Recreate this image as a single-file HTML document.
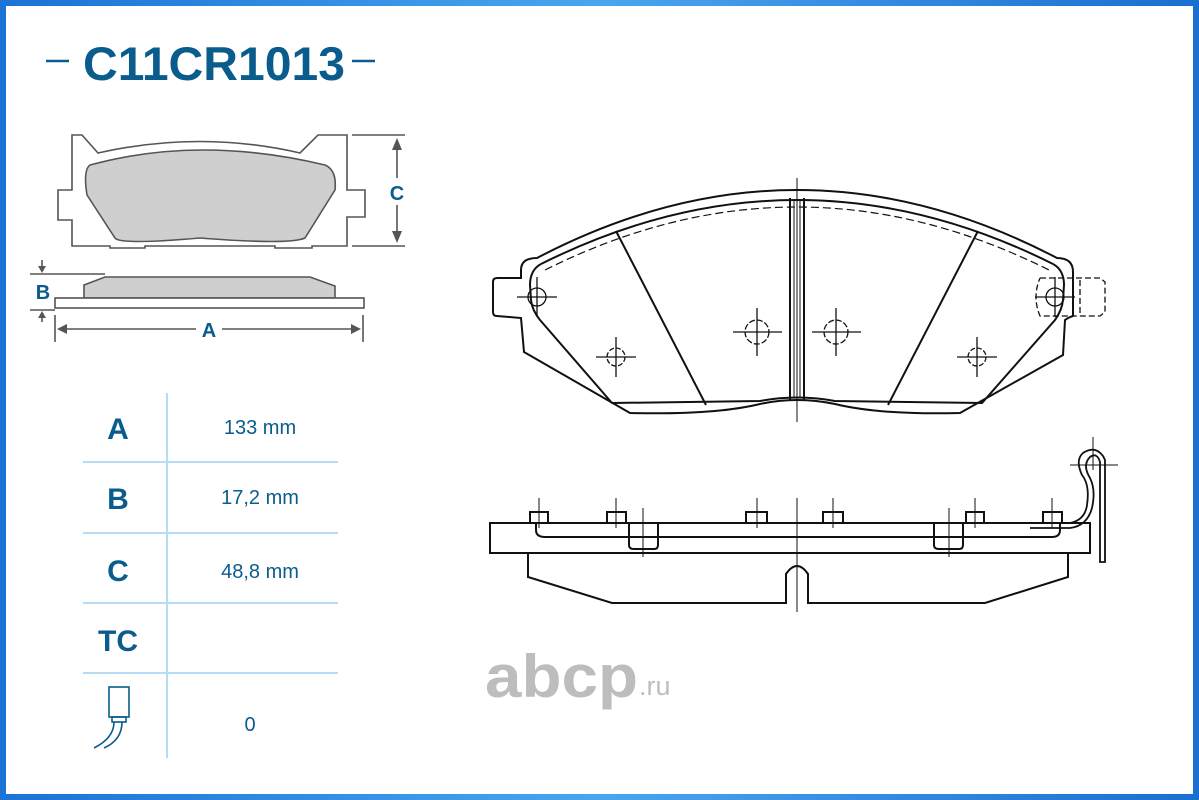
<!DOCTYPE html>
<html><head><meta charset="utf-8"><style>
html,body{margin:0;padding:0;background:#fff}
svg{display:block}
text{font-family:"Liberation Sans",Arial,sans-serif}
</style></head><body>
<svg width="1199" height="800" viewBox="0 0 1199 800" xmlns="http://www.w3.org/2000/svg">
<defs><linearGradient id="bg" x1="0" x2="1"><stop offset="0" stop-color="#1a73d6"/><stop offset="0.5" stop-color="#4aa6ef"/><stop offset="1" stop-color="#1a6fd0"/></linearGradient></defs>
<rect x="0" y="0" width="1199" height="800" fill="url(#bg)"/>
<rect x="6" y="6" width="1187" height="788" fill="#fff"/>
<!-- title -->
<line x1="46" y1="61" x2="69" y2="61" stroke="#0a5c8c" stroke-width="2.5"/>
<line x1="352" y1="61" x2="375" y2="61" stroke="#0a5c8c" stroke-width="2.5"/>
<text x="83" y="80" textLength="262" lengthAdjust="spacingAndGlyphs" font-size="47" font-weight="bold" fill="#0a5c8c">C11CR1013</text>

<!-- small top view -->
<g stroke="#555" stroke-width="1.6" fill="none">
<path d="M72 135 L82 135 L98 153 Q200 130 300 153 L318 135 L347 135 L347 190 L365 190 L365 217 L347 217 L347 246 L312 246 L312 248 L275 248 L275 246 L145 246 L145 248 L110 248 L110 246 L72 246 L72 220 L58 220 L58 190 L72 190 Z"/>
<path d="M90 165 Q200 135 325 165 Q337 170 335 190 L305 238 Q290 245 200 238 Q120 245 115 238 L87 195 Q83 170 90 165 Z" fill="#cfcfcf"/>
<path d="M84 285 L105 277 L310 277 L335 286 L335 298 L84 298 Z" fill="#cfcfcf"/>
<rect x="55" y="298" width="309" height="10" fill="#fff"/>
<line x1="30" y1="274" x2="105" y2="274"/>
<line x1="30" y1="310" x2="55" y2="310"/>
<line x1="352" y1="135" x2="405" y2="135"/>
<line x1="352" y1="246" x2="405" y2="246"/>
<line x1="397" y1="145" x2="397" y2="178"/>
<line x1="397" y1="205" x2="397" y2="236"/>
<line x1="55" y1="315" x2="55" y2="342"/>
<line x1="363" y1="315" x2="363" y2="342"/>
<line x1="62" y1="329" x2="196" y2="329"/>
<line x1="222" y1="329" x2="356" y2="329"/>
<line x1="42" y1="260" x2="42" y2="270"/>
<line x1="42" y1="314" x2="42" y2="322"/>
</g>
<g fill="#555">
<path d="M397 138 L392 150 L402 150 Z"/><path d="M397 243 L392 231 L402 231 Z"/>
<path d="M57 329 L67 324 L67 334 Z"/><path d="M361 329 L351 324 L351 334 Z"/>
<path d="M42 273 L38 266 L46 266 Z"/><path d="M42 311 L38 318 L46 318 Z"/>
</g>
<text x="397" y="200" text-anchor="middle" font-size="20" font-weight="bold" fill="#0a5c8c">C</text>
<text x="209" y="337" text-anchor="middle" font-size="20" font-weight="bold" fill="#0a5c8c">A</text>
<text x="43" y="299" text-anchor="middle" font-size="20" font-weight="bold" fill="#0a5c8c">B</text>

<!-- table -->
<g stroke="#b7dcf5" stroke-width="2">
<line x1="167" y1="393" x2="167" y2="758"/>
<line x1="83" y1="462" x2="338" y2="462"/>
<line x1="83" y1="533" x2="338" y2="533"/>
<line x1="83" y1="603" x2="338" y2="603"/>
<line x1="83" y1="673" x2="338" y2="673"/>
</g>
<g fill="#0a5c8c" font-weight="bold" font-size="30" text-anchor="middle">
<text x="118" y="439">A</text><text x="118" y="509">B</text><text x="118" y="581">C</text><text x="118" y="651">TC</text>
</g>
<g fill="#0a5c8c" font-size="20" text-anchor="middle">
<text x="260" y="434">133 mm</text><text x="260" y="504">17,2 mm</text><text x="260" y="578">48,8 mm</text><text x="250" y="731">0</text>
</g>
<g stroke="#0a5c8c" stroke-width="1.6" fill="none">
<rect x="109" y="687" width="20" height="30"/>
<rect x="112" y="717" width="14" height="5"/>
<path d="M114 722 Q114 738 94 748 M122 722 Q122 740 104 748"/>
</g>

<!-- watermark -->
<text x="485" y="697" textLength="153" lengthAdjust="spacingAndGlyphs" font-size="60" font-weight="bold" fill="#bdbdbd">abcp</text>
<text x="639" y="695" font-size="27" fill="#bdbdbd">.ru</text>

<!-- main front view -->
<g stroke="#111" stroke-width="2" fill="none">
<line x1="797" y1="178" x2="797" y2="422" stroke-width="1"/>
<path d="M537 258 Q797 122 1057 258 Q1073 258 1073 272 L1073 316 L1068 318 L1065 320 L1063 355 L960 413 Q880 415 835 404 Q797 396 760 404 Q715 415 630 413 L524 352 L521 318 L497 316 Q493 316 493 312 L493 282 Q493 278 497 278 L521 278 L521 270 Q521 258 537 258 Z"/>
<path d="M541 264 Q797 136 1053 264"/>
<path d="M545 270 Q797 144 1049 270" stroke-dasharray="8 4" stroke-width="1.2"/>
<path d="M541 264 Q530 270 530 285 L531 300 Q532 310 540 320 L612 403 L760 401 Q797 394 835 401 L982 403 L1055 320 Q1062 310 1063 300 L1064 285 Q1064 270 1053 264"/>
<line x1="616" y1="231" x2="706" y2="405"/>
<line x1="978" y1="231" x2="888" y2="405"/>
<line x1="790" y1="198" x2="790" y2="400"/>
<line x1="804" y1="198" x2="804" y2="400"/>
<line x1="794" y1="200" x2="794" y2="398" stroke-width="1"/>
<line x1="800" y1="200" x2="800" y2="398" stroke-width="1"/>
</g>
<g stroke="#111" stroke-width="1.3" fill="none">
<circle cx="537" cy="297" r="9"/><path d="M517 297H557M537 277V317"/>
<circle cx="616" cy="357" r="9" stroke-dasharray="5 2"/><path d="M596 357H636M616 337V377"/>
<circle cx="757" cy="332" r="12" stroke-dasharray="6 2"/><path d="M733 332H782M757 308V356"/>
<circle cx="836" cy="332" r="12" stroke-dasharray="6 2"/><path d="M812 332H861M836 308V356"/>
<circle cx="977" cy="357" r="9" stroke-dasharray="5 2"/><path d="M957 357H997M977 337V377"/>
<circle cx="1055" cy="297" r="9"/><path d="M1035 297H1075M1055 277V317"/>
<path d="M1040 278 L1100 278 L1105 282 L1105 312 L1100 316 L1040 316 Q1032 297 1040 278" stroke-dasharray="6 3"/>
<line x1="1080" y1="280" x2="1080" y2="314" stroke-dasharray="6 3"/>
</g>

<!-- side view -->
<g stroke="#111" stroke-width="2" fill="none">
<rect x="490" y="523" width="600" height="30"/>
<path d="M528 553 L528 577 L612 603 L786 603 L786 574 Q797 558 808 574 L808 603 L985 603 L1068 577 L1068 553"/>
<path d="M536 524 L536 530 Q536 537 545 537 L1052 537 Q1060 537 1060 530 L1060 524"/>
<path d="M629 524 L629 545 Q629 549 634 549 L654 549 Q658 549 658 545 L658 524"/>
<path d="M934 524 L934 545 Q934 549 939 549 L959 549 Q963 549 963 545 L963 524"/>
<rect x="530" y="512" width="18" height="11"/><rect x="607" y="512" width="19" height="11"/>
<rect x="746" y="512" width="21" height="11"/><rect x="823" y="512" width="20" height="11"/>
<rect x="966" y="512" width="18" height="11"/><rect x="1043" y="512" width="19" height="11"/>
<path d="M1030 523 L1070 523 Q1085 520 1087 505 Q1090 485 1082 475 Q1075 460 1083 453 Q1095 445 1103 456 L1105 460 L1105 562 L1100 562 L1100 462 Q1097 452 1090 457 Q1082 465 1090 478 Q1096 490 1092 508 Q1087 526 1070 528 L1030 528" stroke-width="1.8"/>
</g>
<g stroke="#111" stroke-width="1" fill="none">
<path d="M539 498V528M616 498V528M757 498V528M833 498V528M975 498V528M1052 498V528"/>
<path d="M643 508V557M949 508V557M1093 437V470M1070 465H1118M797 498V612"/>
</g>
</svg>
</body></html>
